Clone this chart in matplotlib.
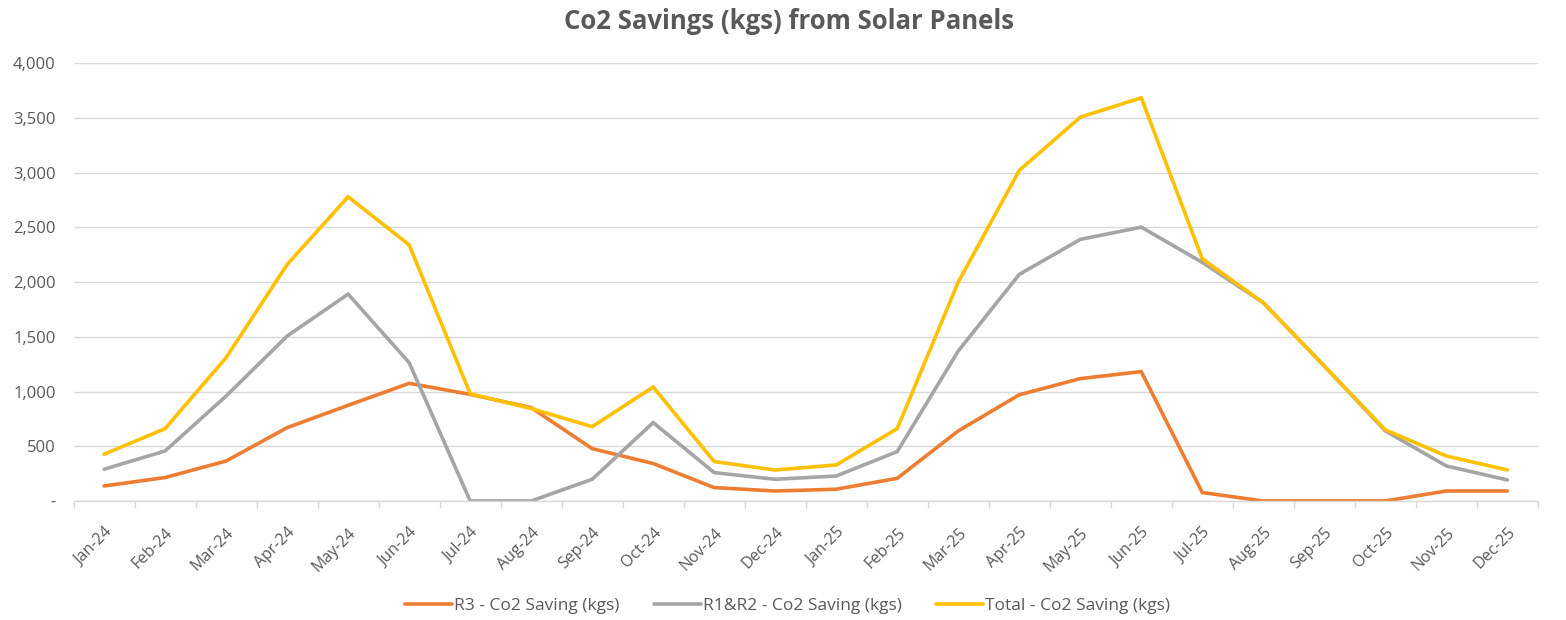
import numpy as np
import matplotlib
matplotlib.use("Agg")
import matplotlib.pyplot as plt
from matplotlib.ticker import FuncFormatter, FixedLocator

# -- Data -------------------------------------------------------------------
months = ["Jan-24", "Feb-24", "Mar-24", "Apr-24", "May-24", "Jun-24",
          "Jul-24", "Aug-24", "Sep-24", "Oct-24", "Nov-24", "Dec-24",
          "Jan-25", "Feb-25", "Mar-25", "Apr-25", "May-25", "Jun-25",
          "Jul-25", "Aug-25", "Sep-25", "Oct-25", "Nov-25", "Dec-25"]

r3_saving = [137, 214, 365, 670, 874, 1075, 974, 853, 478, 342, 122, 91,
             107, 207, 640, 970, 1118, 1182, 77, 0, 0, 0, 91, 91]
r1r2_saving = [290, 457, 959, 1507, 1890, 1264, 0, 0, 198, 716, 259, 198,
               228, 451, 1370, 2070, 2390, 2502, 2180, 1812, 1233, 640, 320, 192]
total_saving = [427, 661, 1310, 2160, 2780, 2340, 980, 845, 679, 1041, 360, 283,
                329, 661, 2000, 3020, 3507, 3684, 2213, 1812, 1233, 650, 411, 283]

series_labels = ["R3 - Co2 Saving (kgs)", "R1&R2 - Co2 Saving (kgs)",
                 "Total - Co2 Saving (kgs)"]
series_colors = ["#ED7D31", "#A5A5A5", "#FFC000"]

# -- Figure -----------------------------------------------------------------
plt.rcParams["font.family"] = ["Open Sans", "DejaVu Sans"]
text_col = "#595959"
grid_col = "#D9D9D9"

fig = plt.figure(figsize=(15.66, 6.2), dpi=100)
ax = fig.add_axes([0.047, 0.192, 0.935, 0.706])

x = np.arange(len(months))
for vals, lab, col in zip([r3_saving, r1r2_saving, total_saving],
                          series_labels, series_colors):
    ax.plot(x, vals, color=col, lw=2.6, label=lab,
            solid_joinstyle="miter", solid_capstyle="round")

ax.set_xlim(-0.5, len(months) - 0.5)
ax.set_ylim(0, 4000)
ax.set_yticks(np.arange(0, 4001, 500))
ax.yaxis.set_major_formatter(FuncFormatter(lambda v, p: "-" if v == 0 else f"{v:,.0f}"))
ax.grid(axis="y", color=grid_col, lw=1.0)
ax.set_axisbelow(True)

ax.set_xticks(x)
ax.set_xticklabels(months, rotation=45, ha="right", rotation_mode="anchor")
ax.xaxis.set_minor_locator(FixedLocator(np.arange(-0.5, len(months), 1)))
ax.tick_params(axis="x", which="major", length=0, pad=17, labelsize=11.5, labelcolor=text_col)
ax.tick_params(axis="x", which="minor", length=5, color=grid_col, width=1)
ax.tick_params(axis="y", length=0, pad=13, labelsize=12, labelcolor=text_col)

for side in ["top", "right", "left"]:
    ax.spines[side].set_visible(False)
ax.spines["bottom"].set_color(grid_col)
ax.spines["bottom"].set_linewidth(1.0)

fig.text(0.504, 0.966, "Co2 Savings (kgs) from Solar Panels", ha="center", va="center",
         fontsize=18.5, fontweight="bold", color=text_col)

fig.legend(loc="center", bbox_to_anchor=(0.503, 0.022), ncol=3, frameon=False,
           fontsize=12.5, labelcolor=text_col, handlelength=2.7, columnspacing=2.0,
           handletextpad=0.1)

fig.savefig("out.png", dpi=100)
